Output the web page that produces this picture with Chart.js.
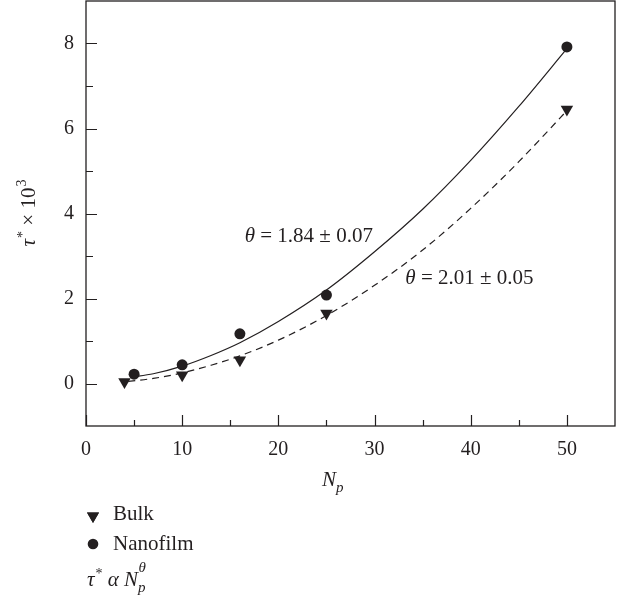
<!DOCTYPE html>
<html>
<head>
<meta charset="utf-8">
<script src="https://cdn.jsdelivr.net/npm/chart.js@4.4.1/dist/chart.umd.min.js"></script>
<style>
  html, body { margin: 0; padding: 0; background: #fff; }
  #wrap { position: relative; width: 622px; height: 599px; }
</style>
</head>
<body>
<div id="wrap"><canvas id="chart"></canvas></div>
<script>
// measured points (tau* x 10^3 vs Np)
const bulkNp = [4, 10, 16, 25, 50];
const bulkTau = [0.04, 0.2, 0.55, 1.65, 6.45];
const nanoNp = [5, 10, 16, 25, 50];
const nanoTau = [0.22, 0.44, 1.17, 2.08, 7.92];

// fitted curves
const nanoFitNp = [4.7, 7, 10, 13, 16, 20, 25, 30, 35, 40, 45, 50];
const nanoFitTau = [0.15, 0.23, 0.41, 0.66, 0.96, 1.46, 2.2, 3.1, 4.1, 5.25, 6.52, 7.88];
const bulkFitNp = [4.4, 7, 10, 13, 16, 20, 25, 30, 35, 40, 45, 50];
const bulkFitTau = [0.05, 0.12, 0.25, 0.43, 0.65, 1.02, 1.6, 2.31, 3.14, 4.12, 5.22, 6.42];

const xMajor = [0, 10, 20, 30, 40, 50];
const xMinor = [5, 15, 25, 35, 45];
const yMajor = [0, 2, 4, 6, 8];
const yMinor = [1, 3, 5, 7];

const INK = "#231f20";
const SERIF = '"Liberation Serif", "DejaVu Serif", serif';

function pts(xs, ys) {
  return xs.map((x, i) => ({ x: x, y: ys[i] }));
}

function font(size, italic) {
  return (italic ? "italic " : "") + size + "px " + SERIF;
}

// draws a row of text pieces (for sub/superscripts), returns width
function drawRuns(ctx, x, y, parts, measureOnly) {
  let cx = x;
  parts.forEach((p) => {
    ctx.font = font(p.size, p.it);
    cx += p.dx || 0;
    if (!measureOnly) ctx.fillText(p.t, cx, y + (p.dy || 0));
    cx += ctx.measureText(p.t).width;
  });
  return cx - x;
}

function noPad(s) {
  s.paddingTop = 0;
  s.paddingBottom = 0;
  s.paddingLeft = 0;
  s.paddingRight = 0;
}

const decor = {
  id: "decor",
  beforeDatasetsDraw(chart) {
    const { ctx, chartArea: a, scales } = chart;
    const xs = scales.x, ys = scales.y;
    ctx.save();
    ctx.strokeStyle = INK;
    ctx.lineWidth = 1.3;
    ctx.strokeRect(a.left, a.top, a.right - a.left, a.bottom - a.top);
    ctx.lineWidth = 1.2;
    ctx.beginPath();
    xMajor.concat(xMinor).forEach((v) => {
      const px = Math.round(xs.getPixelForValue(v)) + 0.5;
      const len = xMajor.includes(v) ? 11 : 6;
      ctx.moveTo(px, a.bottom);
      ctx.lineTo(px, a.bottom - len);
    });
    yMajor.concat(yMinor).forEach((v) => {
      const py = Math.round(ys.getPixelForValue(v)) + 0.5;
      const len = yMajor.includes(v) ? 11 : 7;
      ctx.moveTo(a.left, py);
      ctx.lineTo(a.left + len, py);
    });
    ctx.stroke();
    ctx.restore();
  },
  afterDraw(chart) {
    const { ctx, scales } = chart;
    const xs = scales.x, ys = scales.y;
    ctx.save();
    ctx.fillStyle = INK;
    ctx.textBaseline = "alphabetic";
    ctx.textAlign = "left";

    // y axis title, rotated
    const yTitle = [
      { t: "τ", size: 21, it: true },
      { t: "*", size: 14, dy: -8, dx: 1 },
      { t: " × 10", size: 21 },
      { t: "3", size: 14, dy: -9, dx: 1 }
    ];
    const w = drawRuns(ctx, 0, 0, yTitle, true);
    ctx.save();
    ctx.translate(35, 213);
    ctx.rotate(-Math.PI / 2);
    drawRuns(ctx, -w / 2, 0, yTitle);
    ctx.restore();

    // x axis title
    drawRuns(ctx, 322, 486, [
      { t: "N", size: 21, it: true },
      { t: "p", size: 15, it: true, dy: 6 }
    ]);

    // exponent labels next to the fits
    drawRuns(ctx, xs.getPixelForValue(16.5), ys.getPixelForValue(3.33), [
      { t: "θ", size: 21, it: true },
      { t: " = 1.84 ± 0.07", size: 21 }
    ]);
    drawRuns(ctx, xs.getPixelForValue(33.2), ys.getPixelForValue(2.33), [
      { t: "θ", size: 21, it: true },
      { t: " = 2.01 ± 0.05", size: 21 }
    ]);

    // legend below the plot
    Chart.helpers.drawPoint(ctx, {
      pointStyle: "triangle", radius: 7, rotation: 180,
      borderWidth: 0
    }, 93, 516);
    ctx.fill();
    ctx.beginPath();
    ctx.arc(93, 544, 5.3, 0, Math.PI * 2);
    ctx.fill();
    ctx.font = font(21);
    ctx.fillText("Bulk", 113, 520);
    ctx.fillText("Nanofilm", 113, 550);
    drawRuns(ctx, 87, 586, [
      { t: "τ", size: 21, it: true },
      { t: "*", size: 14, dy: -8, dx: 1 },
      { t: " α ", size: 21, it: true },
      { t: "N", size: 21, it: true },
      { t: "p", size: 15, it: true, dy: 6 },
      { t: "θ", size: 15, it: true, dy: -14, dx: -7 }
    ]);
    ctx.restore();
  }
};

new Chart(document.getElementById("chart"), {
  type: "scatter",
  data: {
    datasets: [
      {
        label: "Bulk",
        data: pts(bulkNp, bulkTau),
        pointStyle: "triangle",
        rotation: 180,
        radius: 7.2,
        backgroundColor: INK,
        borderWidth: 0
      },
      {
        label: "Nanofilm",
        data: pts(nanoNp, nanoTau),
        pointStyle: "circle",
        radius: 5.5,
        backgroundColor: INK,
        borderWidth: 0
      },
      {
        label: "Nanofilm fit",
        data: pts(nanoFitNp, nanoFitTau),
        showLine: true,
        pointRadius: 0,
        borderColor: INK,
        borderWidth: 1.2,
        cubicInterpolationMode: "monotone"
      },
      {
        label: "Bulk fit",
        data: pts(bulkFitNp, bulkFitTau),
        showLine: true,
        pointRadius: 0,
        borderColor: INK,
        borderWidth: 1.2,
        borderDash: [7, 5],
        cubicInterpolationMode: "monotone"
      }
    ]
  },
  options: {
    responsive: true,
    maintainAspectRatio: false,
    animation: false,
    layout: { autoPadding: false, padding: { top: 1, right: 7, left: 0, bottom: 0 } },
    plugins: {
      legend: { display: false },
      tooltip: { enabled: false }
    },
    scales: {
      x: {
        type: "linear",
        min: 0,
        max: 55,
        grid: { display: false, drawTicks: false },
        border: { display: false },
        afterFit: (s) => { s.height = 173; noPad(s); },
        ticks: {
          stepSize: 10,
          padding: 12,
          color: INK,
          font: { size: 20, family: SERIF },
          maxRotation: 0,
          callback: (v) => (v % 10 === 0 && v <= 50 ? v : "")
        }
      },
      y: {
        type: "linear",
        min: -1,
        max: 9,
        grid: { display: false, drawTicks: false },
        border: { display: false },
        afterFit: (s) => { s.width = 86; noPad(s); },
        ticks: {
          stepSize: 1,
          padding: 12,
          color: INK,
          font: { size: 20, family: SERIF },
          callback: (v) => (v >= 0 && v % 2 === 0 ? v : "")
        }
      }
    }
  },
  plugins: [decor]
});
</script>
</body>
</html>
